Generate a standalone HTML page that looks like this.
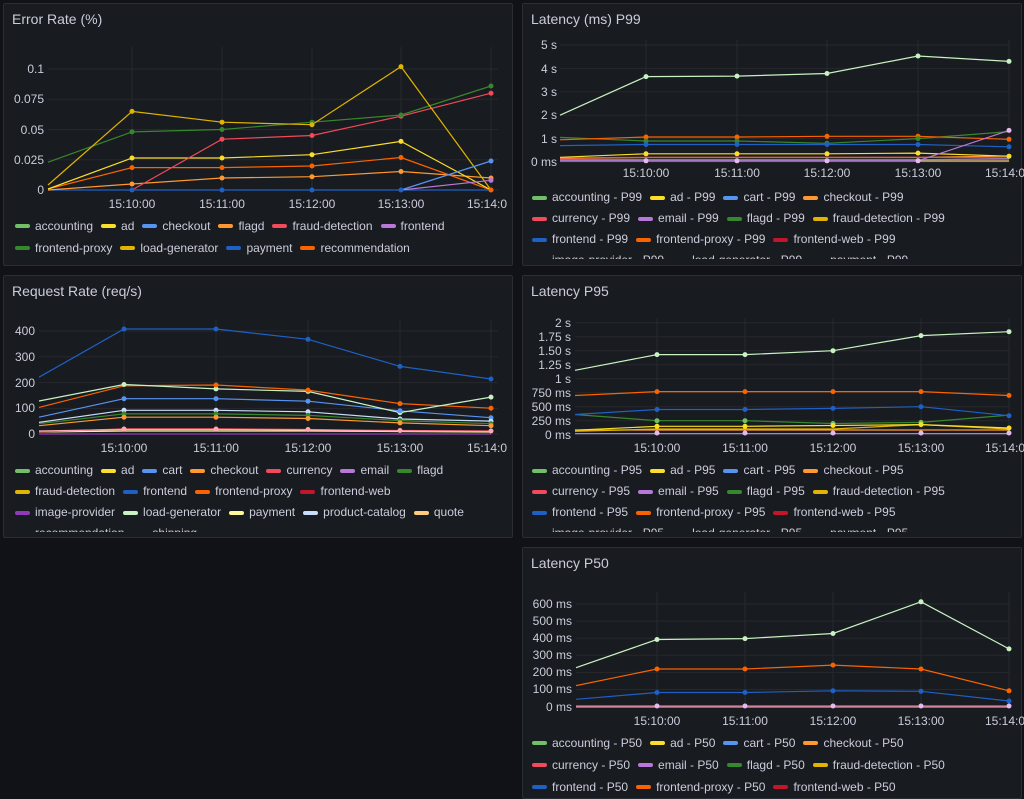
<!DOCTYPE html>
<html><head><meta charset="utf-8">
<style>
*{margin:0;padding:0;box-sizing:border-box}
body{width:1024px;height:797px;background:#111217;font-family:"Liberation Sans",sans-serif;color:#ccccdc;position:relative;overflow:hidden}
.p{position:absolute;background:#181b1f;border:1px solid #2a2d33;border-radius:2px;overflow:hidden}
.t{position:absolute;left:8px;top:7px;font-size:14px;color:#ccccdc}
.lg{position:absolute;display:flex;flex-wrap:wrap;font-size:12px;line-height:21px;overflow:hidden;color:#ccccdc}
.lg span{display:inline-flex;align-items:center;margin-right:8px;white-space:nowrap}
.lg i{display:inline-block;width:15px;height:4px;border-radius:2px;margin-right:5px}
svg{position:absolute;left:0;top:0}
</style></head><body>
<div class="p" style="left:3px;top:3px;width:510px;height:263px"><div class="t">Error Rate (%)</div></div>
<div class="p" style="left:522px;top:3px;width:500px;height:263px"><div class="t">Latency (ms) P99</div></div>
<div class="p" style="left:3px;top:275px;width:510px;height:263px"><div class="t">Request Rate (req/s)</div></div>
<div class="p" style="left:522px;top:275px;width:500px;height:263px"><div class="t">Latency P95</div></div>
<div class="p" style="left:522px;top:547px;width:500px;height:252px"><div class="t">Latency P50</div></div>

<svg width="1024" height="797" font-family="Liberation Sans, sans-serif" font-size="12" fill="#ccccdc">
<g stroke="#26282d" stroke-width="1">
<!-- P1 grid -->
<path d="M48 69H498M48 99.3H498M48 129.5H498M48 159.8H498M48 190H498M132 47V190M222 47V190M312 47V190M401 47V190M491 47V190"/>
<!-- P2 grid -->
<path d="M560 45H1010M560 68.4H1010M560 91.8H1010M560 115.2H1010M560 138.6H1010M560 162H1010M646 40V162M737 40V162M827 40V162M918 40V162M1009 40V162"/>
<!-- P3 grid -->
<path d="M39 331H498M39 356.8H498M39 382.6H498M39 408.4H498M39 434H498M124 320V434M216 320V434M308 320V434M400 320V434M491 320V434"/>
<!-- P4 grid -->
<path d="M575 322.7H1010M575 336.7H1010M575 350.7H1010M575 364.7H1010M575 378.7H1010M575 392.7H1010M575 406.7H1010M575 420.7H1010M575 434.7H1010M657 318V435M745 318V435M833 318V435M921 318V435M1009 318V435"/>
<!-- P5 grid -->
<path d="M576 604H1010M576 621.1H1010M576 638.2H1010M576 655.3H1010M576 672.4H1010M576 689.5H1010M576 707H1010M657 592V707M745 592V707M833 592V707M921 592V707M1009 592V707"/>
</g>
<!-- axis labels -->
<g text-anchor="end">
<text x="44" y="73">0.1</text><text x="44" y="103">0.075</text><text x="44" y="134">0.05</text><text x="44" y="164">0.025</text><text x="44" y="194">0</text>
<text x="557" y="49">5 s</text><text x="557" y="73">4 s</text><text x="557" y="96">3 s</text><text x="557" y="119">2 s</text><text x="557" y="143">1 s</text><text x="557" y="166">0 ms</text>
<text x="35" y="335">400</text><text x="35" y="361">300</text><text x="35" y="387">200</text><text x="35" y="412">100</text><text x="35" y="438">0</text>
<text x="571" y="327">2 s</text><text x="571" y="341">1.75 s</text><text x="571" y="355">1.50 s</text><text x="571" y="369">1.25 s</text><text x="571" y="383">1 s</text><text x="571" y="397">750 ms</text><text x="571" y="411">500 ms</text><text x="571" y="425">250 ms</text><text x="571" y="439">0 ms</text>
<text x="572" y="608">600 ms</text><text x="572" y="625">500 ms</text><text x="572" y="642">400 ms</text><text x="572" y="659">300 ms</text><text x="572" y="676">200 ms</text><text x="572" y="693">100 ms</text><text x="572" y="711">0 ms</text>
</g>
<g text-anchor="middle">
<text x="132" y="208">15:10:00</text><text x="222" y="208">15:11:00</text><text x="312" y="208">15:12:00</text><text x="401" y="208">15:13:00</text>
<text x="646" y="177">15:10:00</text><text x="737" y="177">15:11:00</text><text x="827" y="177">15:12:00</text><text x="918" y="177">15:13:00</text>
<text x="124" y="452">15:10:00</text><text x="216" y="452">15:11:00</text><text x="308" y="452">15:12:00</text><text x="400" y="452">15:13:00</text>
<text x="657" y="452">15:10:00</text><text x="745" y="452">15:11:00</text><text x="833" y="452">15:12:00</text><text x="921" y="452">15:13:00</text>
<text x="657" y="725">15:10:00</text><text x="745" y="725">15:11:00</text><text x="833" y="725">15:12:00</text><text x="921" y="725">15:13:00</text>
</g>
<text x="467" y="208">15:14:0</text><text x="985" y="177">15:14:0</text><text x="467" y="452">15:14:0</text><text x="985" y="452">15:14:0</text><text x="985" y="725">15:14:0</text>

<g fill="none" stroke-width="1.2">
<!-- P1 -->
<polyline stroke="#1f60c4" points="48,190 132,190 222,190 312,190 401,190 491,190"/>
<polyline stroke="#ff9830" points="48,190 132,184 222,178 312,176.7 401,171.5 491,178"/>
<polyline stroke="#fa6400" points="48,189 132,167.6 222,167.6 312,166 401,157.5 491,190"/>
<polyline stroke="#fade2a" points="48,189 132,158 222,158 312,154.7 401,141.4 491,190"/>
<polyline stroke="#f2495c" points="132,190 222,139.2 312,135.5 401,116.2 491,93.2"/>
<polyline stroke="#37872d" points="48,162.2 132,131.9 222,129.5 312,122.2 401,115 491,86"/>
<polyline stroke="#e0b400" points="48,185 132,111.4 222,122.2 312,124.7 401,66.6 491,190"/>
<polyline stroke="#5794f2" points="401,190 491,161"/>
<polyline stroke="#b877d9" points="401,190 491,180.3"/>
<!-- P2 -->
<polyline stroke="#ff9830" points="560,158.5 646,157.5 737,157.5 827,157.5 918,157.5 1009,156"/>
<polyline stroke="#f2495c" points="560,158 646,157.3 737,157.3 827,157.3 918,157.3 1009,158"/>
<polyline stroke="#5794f2" points="560,159.7 646,159.7 737,159.7 827,159.7 918,159.7 1009,159"/>
<polyline stroke="#fade2a" points="560,157.3 646,153.8 737,153.8 827,153.8 918,153.1 1009,156.2"/>
<polyline stroke="#1f60c4" points="560,145.6 646,144.5 737,144.5 827,144.5 918,144.5 1009,146.8"/>
<polyline stroke="#37872d" points="560,137.4 646,141 737,141 827,143.3 918,138.6 1009,131.6"/>
<polyline stroke="#fa6400" points="560,139.8 646,137 737,137 827,136.3 918,136.3 1009,139.3"/>
<polyline stroke="#c8f2c2" points="560,115.2 646,76.6 737,76.1 827,73.5 918,56 1009,61.4"/>
<polyline stroke="#ffcb7d" points="560,161 646,161 737,161 827,161 918,161 1009,161"/>
<polyline stroke="#b877d9" points="560,160.8 646,160.8 737,160.8 827,160.8 918,160.8 1009,130.4"/>
<!-- P3 -->
<polyline stroke="#8f3bb8" points="39,434 124,434 216,434 308,434 400,434 491,434"/>
<polyline stroke="#fff899" points="39,432 124,431 216,431 308,431 400,431.5 491,432"/>
<polyline stroke="#f2495c" points="39,432 124,428.8 216,428.8 308,429.5 400,430.5 491,431"/>
<polyline stroke="#ffa6b0" points="39,431 124,429.5 216,429.5 308,430 400,431 491,431.5"/>
<polyline stroke="#ff9830" points="39,425.7 124,417.2 216,417.2 308,418.5 400,422.9 491,425.7"/>
<polyline stroke="#37872d" points="39,423.7 124,413.9 216,413.9 308,415.4 400,420.6 491,423.7"/>
<polyline stroke="#cadcfc" points="39,422.4 124,410.3 216,410.3 308,411.8 400,419 491,421.1"/>
<polyline stroke="#5794f2" points="39,417.2 124,398.7 216,398.7 308,401.2 400,410.8 491,417.7"/>
<polyline stroke="#fa6400" points="39,407.4 124,385.8 216,385 308,390.1 400,403.6 491,408.2"/>
<polyline stroke="#c8f2c2" points="39,401 124,384.5 216,388.9 308,391.4 400,412.6 491,397.1"/>
<polyline stroke="#1f60c4" points="39,377.2 124,329 216,329 308,339.3 400,366.4 491,379"/>
<!-- P4 -->
<polyline stroke="#b877d9" points="575,433.6 657,433.6 745,433.6 833,433.6 921,433.6 1009,433.6"/>
<polyline stroke="#ff9830" points="575,430 657,430 745,430 833,430 921,430 1009,430"/>
<polyline stroke="#e0b400" points="575,431.3 657,429 745,429 833,429 921,424.6 1009,429"/>
<polyline stroke="#fade2a" points="575,430.2 657,426.3 745,426.3 833,425.5 921,424.6 1009,428"/>
<polyline stroke="#37872d" points="575,414.5 657,420.7 745,420.7 833,423.5 921,422.4 1009,415.1"/>
<polyline stroke="#1f60c4" points="575,414.5 657,409.5 745,409.5 833,408.4 921,406.7 1009,415.7"/>
<polyline stroke="#fa6400" points="575,395.5 657,391.6 745,391.6 833,391.6 921,391.6 1009,395.5"/>
<polyline stroke="#c8f2c2" points="575,370.3 657,354.6 745,354.6 833,350.7 921,335.6 1009,331.7"/>
<!-- P5 -->
<polyline stroke="#ff9830" points="576,707 657,707 745,707 833,707 921,707 1009,707"/>
<polyline stroke="#b877d9" points="576,706 657,706 745,706 833,706 921,706 1009,706"/>
<polyline stroke="#1f60c4" points="576,699.3 657,692.5 745,692.5 833,690.8 921,691.3 1009,701"/>
<polyline stroke="#fa6400" points="576,685.6 657,669 745,669 833,665.1 921,669 1009,690.8"/>
<polyline stroke="#c8f2c2" points="576,667.7 657,639.5 745,638.6 833,633.5 921,601.8 1009,648.9"/>
</g>
<!-- dots -->
<g>
<g fill="#1f60c4"><circle cx="132" cy="190" r="2.5"/><circle cx="222" cy="190" r="2.5"/><circle cx="312" cy="190" r="2.5"/><circle cx="401" cy="190" r="2.5"/></g>
<g fill="#ff9830"><circle cx="132" cy="184" r="2.5"/><circle cx="222" cy="178" r="2.5"/><circle cx="312" cy="176.7" r="2.5"/><circle cx="401" cy="171.5" r="2.5"/><circle cx="491" cy="178" r="2.5"/></g>
<g fill="#fa6400"><circle cx="132" cy="167.6" r="2.5"/><circle cx="222" cy="167.6" r="2.5"/><circle cx="312" cy="166" r="2.5"/><circle cx="401" cy="157.5" r="2.5"/><circle cx="491" cy="190" r="2.5"/></g>
<g fill="#fade2a"><circle cx="132" cy="158" r="2.5"/><circle cx="222" cy="158" r="2.5"/><circle cx="312" cy="154.7" r="2.5"/><circle cx="401" cy="141.4" r="2.5"/></g>
<g fill="#f2495c"><circle cx="222" cy="139.2" r="2.5"/><circle cx="312" cy="135.5" r="2.5"/><circle cx="401" cy="116.2" r="2.5"/><circle cx="491" cy="93.2" r="2.5"/></g>
<g fill="#37872d"><circle cx="132" cy="131.9" r="2.5"/><circle cx="222" cy="129.5" r="2.5"/><circle cx="312" cy="122.2" r="2.5"/><circle cx="401" cy="115" r="2.5"/><circle cx="491" cy="86" r="2.5"/></g>
<g fill="#e0b400"><circle cx="132" cy="111.4" r="2.5"/><circle cx="222" cy="122.2" r="2.5"/><circle cx="312" cy="124.7" r="2.5"/><circle cx="401" cy="66.6" r="2.5"/></g>
<circle cx="491" cy="161" r="2.5" fill="#5794f2"/><circle cx="491" cy="180.3" r="2.5" fill="#b877d9"/>

<g fill="#c8f2c2"><circle cx="646" cy="76.6" r="2.5"/><circle cx="737" cy="76.1" r="2.5"/><circle cx="827" cy="73.5" r="2.5"/><circle cx="918" cy="56" r="2.5"/><circle cx="1009" cy="61.4" r="2.5"/></g>
<g fill="#fa6400"><circle cx="646" cy="137" r="2.5"/><circle cx="737" cy="137" r="2.5"/><circle cx="827" cy="136.3" r="2.5"/><circle cx="918" cy="136.3" r="2.5"/><circle cx="1009" cy="139.3" r="2.5"/></g>
<g fill="#37872d"><circle cx="646" cy="141" r="2.5"/><circle cx="737" cy="141" r="2.5"/><circle cx="827" cy="143.3" r="2.5"/><circle cx="918" cy="138.6" r="2.5"/></g>
<g fill="#1f60c4"><circle cx="646" cy="144.5" r="2.5"/><circle cx="737" cy="144.5" r="2.5"/><circle cx="827" cy="144.5" r="2.5"/><circle cx="918" cy="144.5" r="2.5"/><circle cx="1009" cy="146.8" r="2.5"/></g>
<g fill="#fade2a"><circle cx="646" cy="153.8" r="2.5"/><circle cx="737" cy="153.8" r="2.5"/><circle cx="827" cy="153.8" r="2.5"/><circle cx="918" cy="153.1" r="2.5"/><circle cx="1009" cy="156.2" r="2.5"/></g>
<g fill="#e6b8f0"><circle cx="646" cy="160.8" r="2.5"/><circle cx="737" cy="160.8" r="2.5"/><circle cx="827" cy="160.8" r="2.5"/><circle cx="918" cy="160.8" r="2.5"/><circle cx="1009" cy="130.4" r="2.5"/></g>

<g fill="#1f60c4"><circle cx="124" cy="329" r="2.5"/><circle cx="216" cy="329" r="2.5"/><circle cx="308" cy="339.3" r="2.5"/><circle cx="400" cy="366.4" r="2.5"/><circle cx="491" cy="379" r="2.5"/></g>
<g fill="#c8f2c2"><circle cx="124" cy="384.5" r="2.5"/><circle cx="216" cy="388.9" r="2.5"/><circle cx="308" cy="391.4" r="2.5"/><circle cx="400" cy="412.6" r="2.5"/><circle cx="491" cy="397.1" r="2.5"/></g>
<g fill="#fa6400"><circle cx="216" cy="385" r="2.5"/><circle cx="308" cy="390.1" r="2.5"/><circle cx="400" cy="403.6" r="2.5"/><circle cx="491" cy="408.2" r="2.5"/></g>
<g fill="#5794f2"><circle cx="124" cy="398.7" r="2.5"/><circle cx="216" cy="398.7" r="2.5"/><circle cx="308" cy="401.2" r="2.5"/><circle cx="400" cy="410.8" r="2.5"/><circle cx="491" cy="417.7" r="2.5"/></g>
<g fill="#cadcfc"><circle cx="124" cy="410.3" r="2.5"/><circle cx="216" cy="410.3" r="2.5"/><circle cx="308" cy="411.8" r="2.5"/><circle cx="400" cy="419" r="2.5"/><circle cx="491" cy="421.1" r="2.5"/></g>
<g fill="#37872d"><circle cx="124" cy="413.9" r="2.5"/><circle cx="216" cy="413.9" r="2.5"/><circle cx="308" cy="415.4" r="2.5"/><circle cx="400" cy="420.6" r="2.5"/><circle cx="491" cy="423.7" r="2.5"/></g>
<g fill="#ff9830"><circle cx="124" cy="417.2" r="2.5"/><circle cx="216" cy="417.2" r="2.5"/><circle cx="308" cy="418.5" r="2.5"/><circle cx="400" cy="422.9" r="2.5"/><circle cx="491" cy="425.7" r="2.5"/></g>
<g fill="#ffa6b0"><circle cx="124" cy="429" r="2.5"/><circle cx="216" cy="429" r="2.5"/><circle cx="308" cy="429.5" r="2.5"/><circle cx="400" cy="430.5" r="2.5"/><circle cx="491" cy="431" r="2.5"/></g>

<g fill="#c8f2c2"><circle cx="657" cy="354.6" r="2.5"/><circle cx="745" cy="354.6" r="2.5"/><circle cx="833" cy="350.7" r="2.5"/><circle cx="921" cy="335.6" r="2.5"/><circle cx="1009" cy="331.7" r="2.5"/></g>
<g fill="#fa6400"><circle cx="657" cy="391.6" r="2.5"/><circle cx="745" cy="391.6" r="2.5"/><circle cx="833" cy="391.6" r="2.5"/><circle cx="921" cy="391.6" r="2.5"/><circle cx="1009" cy="395.5" r="2.5"/></g>
<g fill="#1f60c4"><circle cx="657" cy="409.5" r="2.5"/><circle cx="745" cy="409.5" r="2.5"/><circle cx="833" cy="408.4" r="2.5"/><circle cx="921" cy="406.7" r="2.5"/><circle cx="1009" cy="415.7" r="2.5"/></g>
<g fill="#73bf69"><circle cx="657" cy="420.7" r="2.5"/><circle cx="745" cy="420.7" r="2.5"/><circle cx="833" cy="423.5" r="2.5"/><circle cx="921" cy="422.4" r="2.5"/></g>
<g fill="#fade2a"><circle cx="657" cy="426.3" r="2.5"/><circle cx="745" cy="426.3" r="2.5"/><circle cx="833" cy="425.5" r="2.5"/><circle cx="921" cy="424.6" r="2.5"/><circle cx="1009" cy="428" r="2.5"/></g>
<g fill="#e6b8f0"><circle cx="657" cy="433" r="2.5"/><circle cx="745" cy="433" r="2.5"/><circle cx="833" cy="433" r="2.5"/><circle cx="921" cy="433" r="2.5"/><circle cx="1009" cy="433" r="2.5"/></g>

<g fill="#c8f2c2"><circle cx="657" cy="639.5" r="2.5"/><circle cx="745" cy="638.6" r="2.5"/><circle cx="833" cy="633.5" r="2.5"/><circle cx="921" cy="601.8" r="2.5"/><circle cx="1009" cy="648.9" r="2.5"/></g>
<g fill="#fa6400"><circle cx="657" cy="669" r="2.5"/><circle cx="745" cy="669" r="2.5"/><circle cx="833" cy="665.1" r="2.5"/><circle cx="921" cy="669" r="2.5"/><circle cx="1009" cy="690.8" r="2.5"/></g>
<g fill="#1f60c4"><circle cx="657" cy="692.5" r="2.5"/><circle cx="745" cy="692.5" r="2.5"/><circle cx="833" cy="690.8" r="2.5"/><circle cx="921" cy="691.3" r="2.5"/><circle cx="1009" cy="701" r="2.5"/></g>
<g fill="#e6b8f0"><circle cx="657" cy="706" r="2.5"/><circle cx="745" cy="706" r="2.5"/><circle cx="833" cy="706" r="2.5"/><circle cx="921" cy="706" r="2.5"/><circle cx="1009" cy="706" r="2.5"/></g>
</g>
</svg>

<div class="lg" style="left:15px;top:215px;width:490px;height:44px">
<span><i style="background:#73bf69"></i>accounting</span><span><i style="background:#fade2a"></i>ad</span><span><i style="background:#5794f2"></i>checkout</span><span><i style="background:#ff9830"></i>flagd</span><span><i style="background:#f2495c"></i>fraud-detection</span><span><i style="background:#b877d9"></i>frontend</span><span><i style="background:#37872d"></i>frontend-proxy</span><span><i style="background:#e0b400"></i>load-generator</span><span><i style="background:#1f60c4"></i>payment</span><span><i style="background:#fa6400"></i>recommendation</span>
</div>

<div class="lg" style="left:532px;top:187px;width:482px;height:72px">
<span><i style="background:#73bf69"></i>accounting - P99</span><span><i style="background:#fade2a"></i>ad - P99</span><span><i style="background:#5794f2"></i>cart - P99</span><span><i style="background:#ff9830"></i>checkout - P99</span><span><i style="background:#f2495c"></i>currency - P99</span><span><i style="background:#b877d9"></i>email - P99</span><span><i style="background:#37872d"></i>flagd - P99</span><span><i style="background:#e0b400"></i>fraud-detection - P99</span><span><i style="background:#1f60c4"></i>frontend - P99</span><span><i style="background:#fa6400"></i>frontend-proxy - P99</span><span><i style="background:#c4162a"></i>frontend-web - P99</span><span><i style="background:#8f3bb8"></i>image-provider - P99</span><span><i style="background:#c8f2c2"></i>load-generator - P99</span><span><i style="background:#fff899"></i>payment - P99</span>
</div>

<div class="lg" style="left:15px;top:460px;width:490px;height:72px">
<span><i style="background:#73bf69"></i>accounting</span><span><i style="background:#fade2a"></i>ad</span><span><i style="background:#5794f2"></i>cart</span><span><i style="background:#ff9830"></i>checkout</span><span><i style="background:#f2495c"></i>currency</span><span><i style="background:#b877d9"></i>email</span><span><i style="background:#37872d"></i>flagd</span><span><i style="background:#e0b400"></i>fraud-detection</span><span><i style="background:#1f60c4"></i>frontend</span><span><i style="background:#fa6400"></i>frontend-proxy</span><span><i style="background:#c4162a"></i>frontend-web</span><span><i style="background:#8f3bb8"></i>image-provider</span><span><i style="background:#c8f2c2"></i>load-generator</span><span><i style="background:#fff899"></i>payment</span><span><i style="background:#cadcfc"></i>product-catalog</span><span><i style="background:#ffcb7d"></i>quote</span><span><i style="background:#fa6400"></i>recommendation</span><span><i style="background:#6ccf8e"></i>shipping</span>
</div>

<div class="lg" style="left:532px;top:460px;width:482px;height:72px">
<span><i style="background:#73bf69"></i>accounting - P95</span><span><i style="background:#fade2a"></i>ad - P95</span><span><i style="background:#5794f2"></i>cart - P95</span><span><i style="background:#ff9830"></i>checkout - P95</span><span><i style="background:#f2495c"></i>currency - P95</span><span><i style="background:#b877d9"></i>email - P95</span><span><i style="background:#37872d"></i>flagd - P95</span><span><i style="background:#e0b400"></i>fraud-detection - P95</span><span><i style="background:#1f60c4"></i>frontend - P95</span><span><i style="background:#fa6400"></i>frontend-proxy - P95</span><span><i style="background:#c4162a"></i>frontend-web - P95</span><span><i style="background:#8f3bb8"></i>image-provider - P95</span><span><i style="background:#c8f2c2"></i>load-generator - P95</span><span><i style="background:#fff899"></i>payment - P95</span>
</div>

<div class="lg" style="left:532px;top:732px;width:482px;height:66px">
<span><i style="background:#73bf69"></i>accounting - P50</span><span><i style="background:#fade2a"></i>ad - P50</span><span><i style="background:#5794f2"></i>cart - P50</span><span><i style="background:#ff9830"></i>checkout - P50</span><span><i style="background:#f2495c"></i>currency - P50</span><span><i style="background:#b877d9"></i>email - P50</span><span><i style="background:#37872d"></i>flagd - P50</span><span><i style="background:#e0b400"></i>fraud-detection - P50</span><span><i style="background:#1f60c4"></i>frontend - P50</span><span><i style="background:#fa6400"></i>frontend-proxy - P50</span><span><i style="background:#c4162a"></i>frontend-web - P50</span>
</div>
</body></html>
